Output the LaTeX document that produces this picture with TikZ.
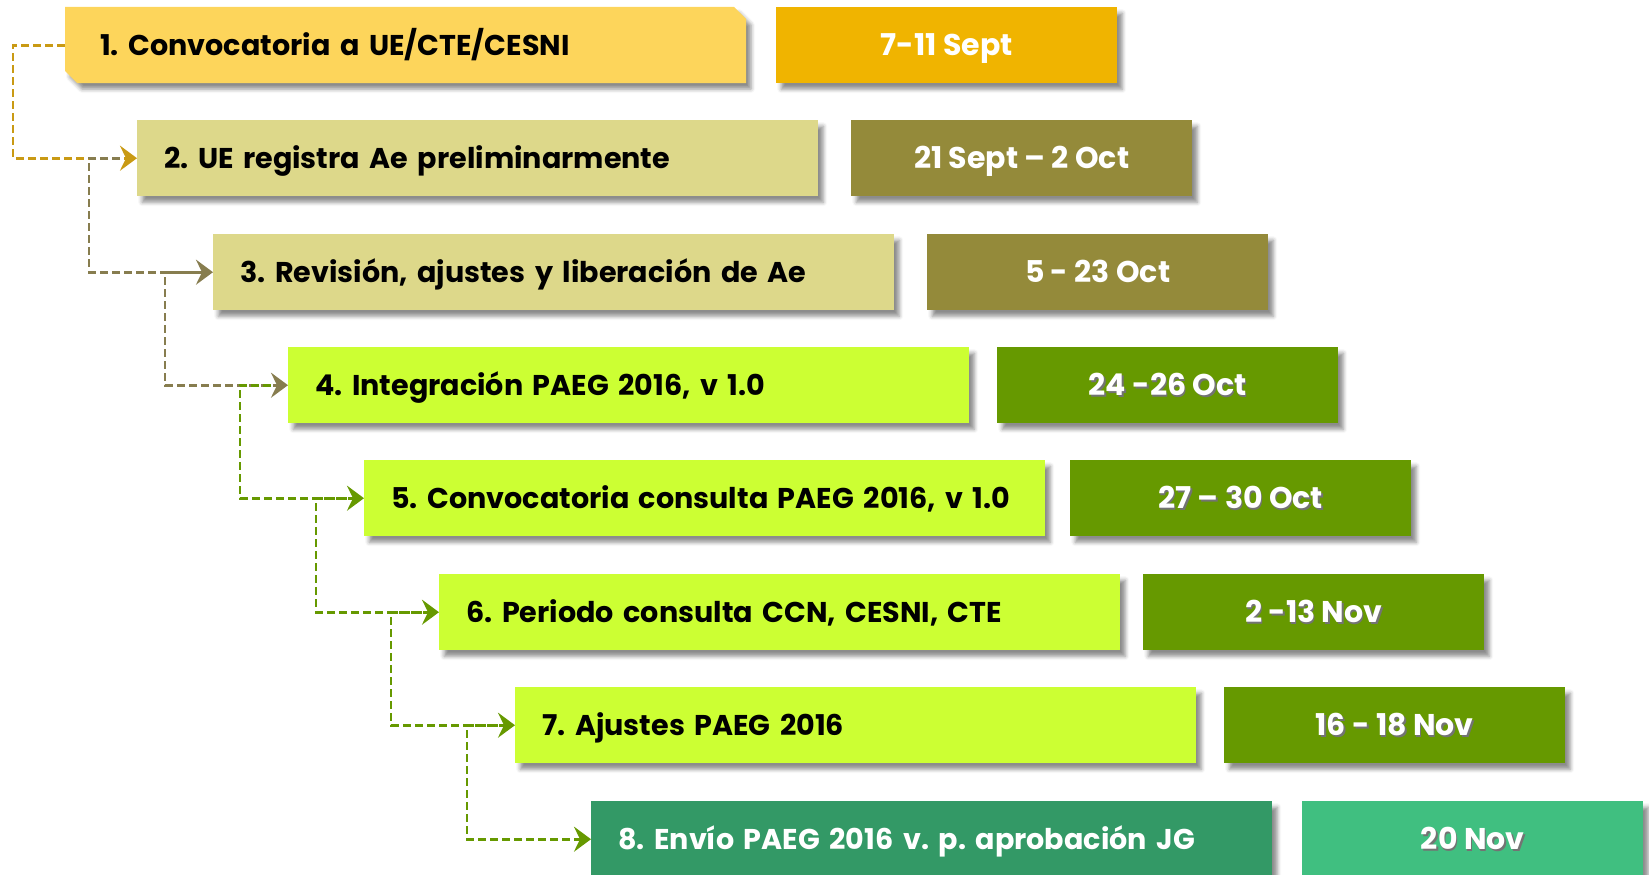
\documentclass[tikz,border=0pt]{standalone}
\usepackage{fontspec}
\setmainfont{Poppins}
\usetikzlibrary{arrows.meta,shadows.blur}
\frenchspacing
\definecolor{yA}{HTML}{FDD55B}
\definecolor{yD}{HTML}{F0B400}
\definecolor{kA}{HTML}{DDD88A}
\definecolor{kD}{HTML}{948A3A}
\definecolor{gA}{HTML}{CCFF33}
\definecolor{gD}{HTML}{669900}
\definecolor{tA}{HTML}{339966}
\definecolor{tD}{HTML}{40BF80}
\definecolor{cGold}{HTML}{C99A14}
\definecolor{cOlive}{HTML}{877D4F}
\definecolor{cGreen}{HTML}{669900}
\newcommand\shtext[1]{\makebox[0pt][l]{\raisebox{-1.6pt}{\hspace{1.6pt}\textcolor{black!55}{#1}}}#1}
\begin{document}
\begin{tikzpicture}[x=1pt,y=-1pt,
  boxshadow/.style={blur shadow={shadow xshift=5pt, shadow yshift=-6pt, shadow blur radius=4pt, shadow opacity=45}},
  mainbox/.style={rectangle, anchor=north west, minimum height=76pt, inner xsep=27pt, inner ysep=0pt,
    text width=627pt, text height=21pt, text depth=0pt, align=left,
    font=\fontsize{28.6}{32}\selectfont\bfseries\frenchspacing},
  datebox/.style={rectangle, anchor=north west, minimum width=341pt, minimum height=76pt, inner sep=0pt,
    text height=21pt, text depth=0pt,
    text=white, align=center, font=\fontsize{30}{32}\selectfont\bfseries, boxshadow},
  conn/.style={line width=2.8pt, dash pattern=on 8pt off 4pt, -{Stealth[length=17pt,width=25pt,inset=6pt]}}
]
\useasboundingbox (0,0) rectangle (1649,875);
% box 1: snipped corners (top right, bottom left)
\fill[yA, boxshadow] (65,7) -- (734,7) -- (746,19) -- (746,83) -- (77,83) -- (65,71) -- cycle;
\node[mainbox, inner xsep=35pt, text width=611pt] (b1) at (65,7) {\mbox{1. Convocatoria a UE/CTE/CESNI}};
\node[mainbox, boxshadow, fill=kA] (b2) at (137,120) {\mbox{2. UE registra Ae preliminarmente}};
\node[mainbox, boxshadow, fill=kA] (b3) at (213,234) {\mbox{3. Revisión, ajustes y liberación de Ae}};
\node[mainbox, boxshadow, fill=gA] (b4) at (288,347) {\mbox{4. Integración PAEG 2016, v 1.0}};
\node[mainbox, boxshadow, fill=gA] (b5) at (364,460) {\mbox{5. Convocatoria consulta PAEG 2016, v 1.0}};
\node[mainbox, boxshadow, fill=gA] (b6) at (439,574) {\mbox{6. Periodo consulta CCN, CESNI, CTE}};
\node[mainbox, boxshadow, fill=gA] (b7) at (515,687) {\mbox{7. Ajustes PAEG 2016}};
\node[mainbox, boxshadow, fill=tA, text=white] (b8) at (591,801) {\mbox{8. Envío PAEG 2016 v. p. aprobación JG}};
% date boxes
\node[datebox, fill=yD] (d1) at (776,7) {7-11 Sept};
\node[datebox, fill=kD] (d2) at (851,120) {21 Sept – 2 Oct};
\node[datebox, fill=kD] (d3) at (927,234) {5 - 23 Oct};
\node[datebox, fill=gD] (d4) at (997,347) {\shtext{24 -26 Oct}};
\node[datebox, fill=gD] (d5) at (1070,460) {\shtext{27 – 30 Oct}};
\node[datebox, fill=gD] (d6) at (1143,574) {\shtext{2 -13 Nov}};
\node[datebox, fill=gD] (d7) at (1224,687) {\shtext{16 - 18 Nov}};
\node[datebox, fill=tD] (d8) at (1302,801) {\shtext{20 Nov}};
% connectors
\draw[conn, cGold] (b1.west) -- ++(-52,0) |- (b2.west);
\draw[conn, cOlive] ([xshift=-17pt]b2.west) -- ++(-31,0) |- (b3.west);
\draw[conn, cOlive] ([xshift=-17pt]b3.west) -- ++(-31,0) |- (b4.west);
\draw[conn, cGreen] ([xshift=-17pt]b4.west) -- ++(-31,0) |- (b5.west);
\draw[conn, cGreen] ([xshift=-17pt]b5.west) -- ++(-31,0) |- (b6.west);
\draw[conn, cGreen] ([xshift=-17pt]b6.west) -- ++(-31,0) |- (b7.west);
\draw[conn, cGreen] ([xshift=-17pt]b7.west) -- ++(-31,0) |- (b8.west);
\end{tikzpicture}
\end{document}
